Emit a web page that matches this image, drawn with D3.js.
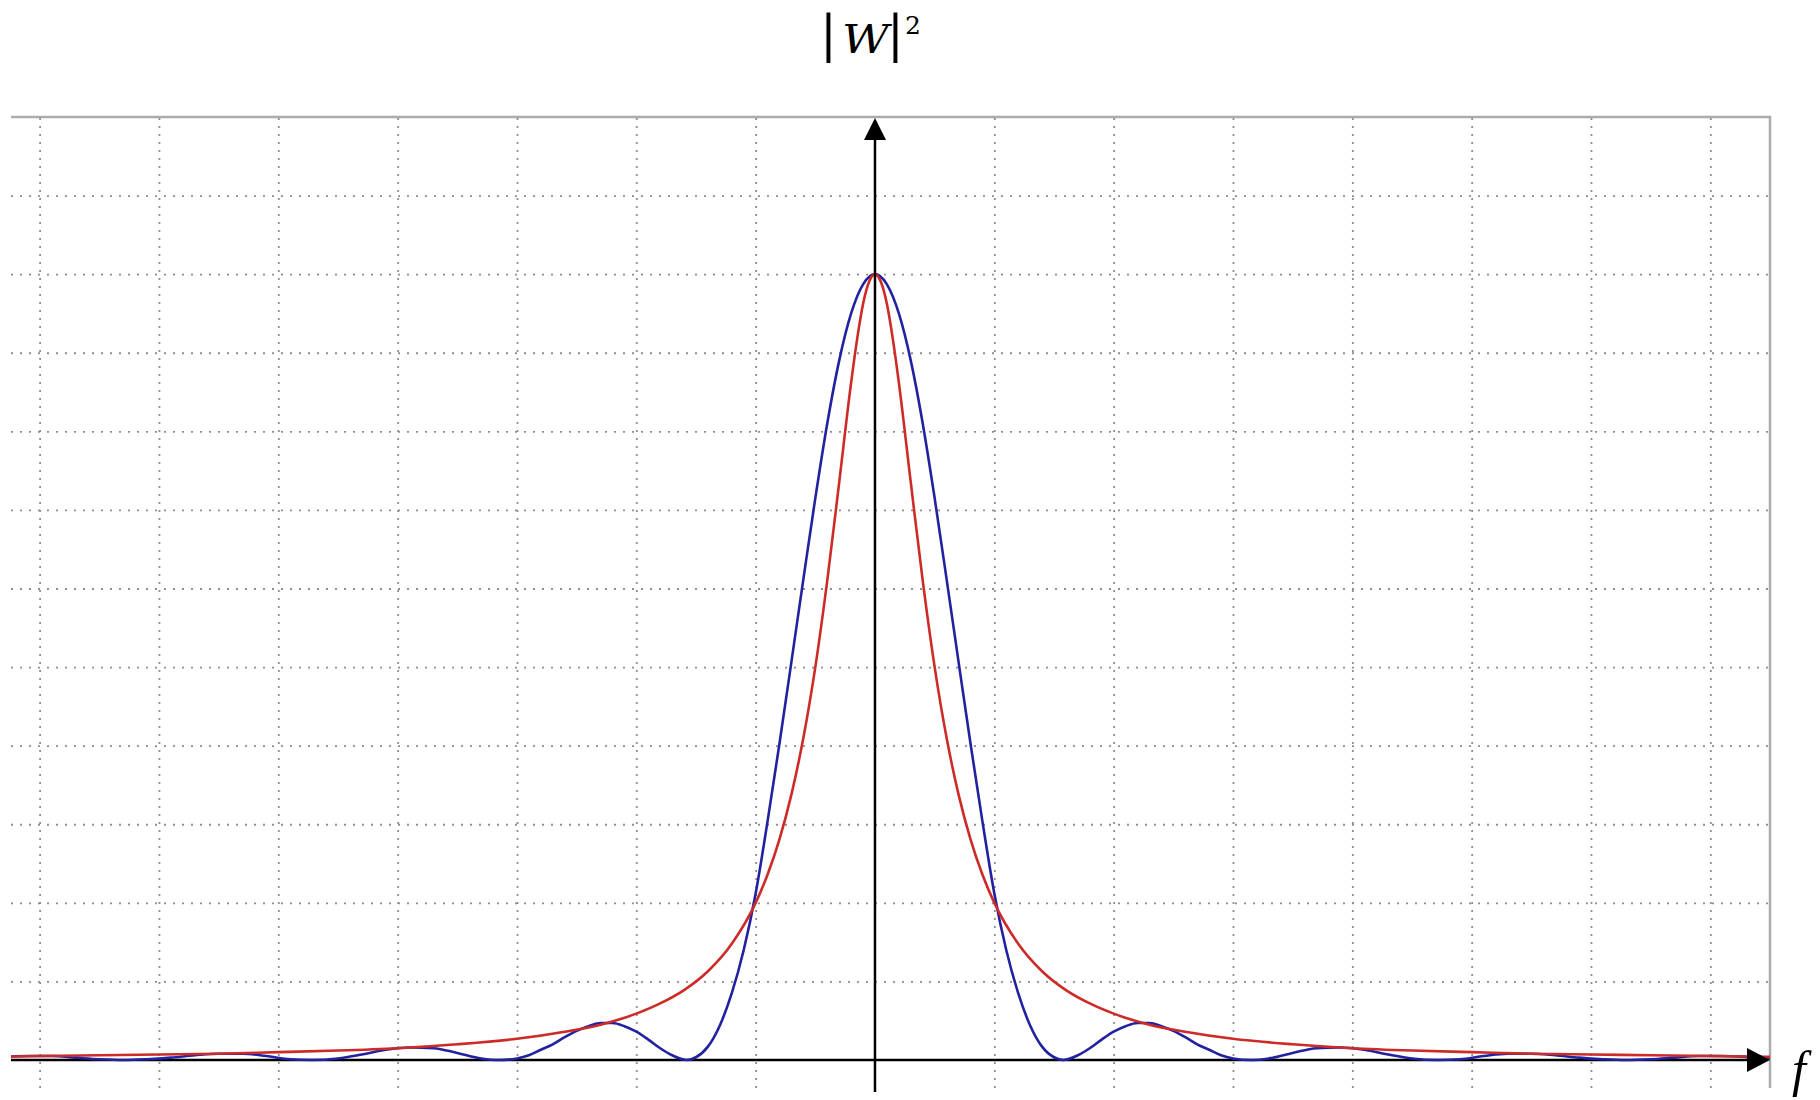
<!DOCTYPE html>
<html>
<head>
<meta charset="utf-8">
<script src="https://cdn.jsdelivr.net/npm/d3@7"></script>
<style>
  body { margin: 0; background: #fff; }
  svg { display: block; }
</style>
</head>
<body>
<script>

// spectrum is even in f, so only f >= 0 is listed (grid units)
const blueF = [0, 0.1, 0.2, 0.3, 0.4, 0.5, 0.6, 0.7, 0.8, 0.9, 1.0,
    1.1, 1.2, 1.3, 1.4, 1.5, 1.58, 1.7, 1.8, 1.9, 2.0, 2.1, 2.2, 2.3, 2.4, 2.5, 2.6,
    2.7, 2.8, 2.9, 3.0, 3.15, 3.3, 3.5, 3.7, 3.9, 4.1, 4.3, 4.5, 4.72, 4.9, 5.1, 5.3,
    5.5, 5.7, 5.9, 6.1, 6.29, 6.5, 6.7, 6.9, 7.1, 7.3, 7.5]
const blueW = [10, 9.87, 9.5, 8.9, 8.1, 7.15, 6.12, 5.07, 4.03, 3.04, 2.12,
    1.4, 0.85, 0.44, 0.17, 0.035, 0, 0.06, 0.15, 0.26, 0.36, 0.43, 0.47, 0.47, 0.43, 0.37, 0.29,
    0.2, 0.13, 0.06, 0.02, 0, 0.02, 0.09, 0.15, 0.16, 0.13, 0.07, 0.02, 0, 0.01, 0.05, 0.08,
    0.08, 0.06, 0.03, 0.01, 0, 0.01, 0.03, 0.05, 0.05, 0.04, 0.02]

const redF = [0, 0.05, 0.1, 0.15, 0.2, 0.3, 0.4, 0.5, 0.6, 0.7, 0.8, 0.9, 1.0, 1.2, 1.4,
    1.6, 1.8, 2.0, 2.3, 2.6, 3.0, 3.5, 4.0, 4.5, 5.0, 5.5, 6.0, 6.5, 7.0, 7.5]
const redW = [10, 9.9, 9.62, 9.17, 8.62, 7.35, 6.1, 5.0, 4.1, 3.38, 2.81, 2.36, 2.0, 1.48, 1.13,
    0.89, 0.72, 0.59, 0.45, 0.36, 0.27, 0.2, 0.15, 0.12, 0.1, 0.08, 0.07, 0.06, 0.05, 0.04]

const gridF = [-7, -6, -5, -4, -3, -2, -1, 1, 2, 3, 4, 5, 6, 7]
const gridW = [1, 2, 3, 4, 5, 6, 7, 8, 9, 10, 11]

const width = 1820, height = 1100
const frame = {left: 11, right: 1770, top: 117, bottom: 1088}

const svg = d3.select("body").append("svg")
    .attr("width", width)
    .attr("height", height)

const x = d3.scaleLinear().domain([-7.24, 7.5]).range([frame.left, frame.right])
const y = d3.scaleLinear().domain([0, 12]).range([1060, frame.top])

// mirror the f >= 0 half onto f < 0
function mirror(fs, ws) {
    let pts = fs.map((f, i) => [f, ws[i]])
    let left = pts.filter(d => d[0] > 0).map(d => [-d[0], d[1]]).reverse()
    return left.concat(pts)
}

// dotted grid
const gridColor = "#8e8e8e"
svg.append("g")
    .attr("transform", `translate(0,${frame.bottom})`)
    .call(d3.axisBottom(x).tickValues(gridF).tickSize(-(frame.bottom - frame.top)).tickFormat(""))
    .call(g => g.select(".domain").remove())
    .selectAll("line")
    .attr("stroke", gridColor)
    .attr("stroke-width", 1.8)
    .attr("stroke-dasharray", "2,6")

svg.append("g")
    .attr("transform", `translate(${frame.left},0)`)
    .call(d3.axisLeft(y).tickValues(gridW).tickSize(-(frame.right - frame.left)).tickFormat(""))
    .call(g => g.select(".domain").remove())
    .selectAll("line")
    .attr("stroke", gridColor)
    .attr("stroke-width", 1.8)
    .attr("stroke-dasharray", "2,7")

// frame: top and right edges only
svg.append("path")
    .attr("d", `M${frame.left},${frame.top}H${frame.right}V${frame.bottom}`)
    .attr("fill", "none")
    .attr("stroke", "#ababab")
    .attr("stroke-width", 2.5)

// horizontal axis
const x0 = x(0), y0 = y(0)
svg.append("line")
    .attr("x1", frame.left).attr("x2", frame.right - 20)
    .attr("y1", y0).attr("y2", y0)
    .attr("stroke", "#000").attr("stroke-width", 2.5)

svg.append("clipPath").attr("id", "plot-clip")
    .append("rect")
    .attr("x", frame.left).attr("y", frame.top)
    .attr("width", frame.right - frame.left).attr("height", frame.bottom - frame.top)

const line = d3.line()
    .x(d => x(d[0]))
    .y(d => y(d[1]))
    .curve(d3.curveMonotoneX)

const curves = svg.append("g").attr("clip-path", "url(#plot-clip)")

curves.append("path")
    .datum(mirror(blueF, blueW))
    .attr("d", line)
    .attr("fill", "none")
    .attr("stroke", "#2222a0")
    .attr("stroke-width", 2.6)

curves.append("path")
    .datum(mirror(redF, redW))
    .attr("d", line)
    .attr("fill", "none")
    .attr("stroke", "#cc2b28")
    .attr("stroke-width", 2.6)

// vertical axis
svg.append("line")
    .attr("x1", x0).attr("x2", x0)
    .attr("y1", frame.bottom + 4).attr("y2", frame.top + 20)
    .attr("stroke", "#000").attr("stroke-width", 2.5)

// arrow heads
svg.append("path")
    .attr("d", `M${x0},${frame.top + 1}L${x0 - 11},${frame.top + 23}L${x0 + 11},${frame.top + 23}Z`)
    .attr("fill", "#000")
svg.append("path")
    .attr("d", `M${frame.right},${y0}L${frame.right - 23},${y0 - 12}L${frame.right - 23},${y0 + 12}Z`)
    .attr("fill", "#000")

// title |W|^2 as one text, pieces placed around the vertical axis
const title = svg.append("text")
    .style("font-family", "'DejaVu Serif', serif")
    .style("fill", "#000")
title.append("tspan").attr("x", x0 - 55).attr("y", 51).style("font-size", "50px").text("|")
title.append("tspan").attr("x", x0 - 33).attr("y", 53)
    .attr("textLength", 47).attr("lengthAdjust", "spacingAndGlyphs")
    .style("font-size", "39px").style("font-style", "italic").text("W")
title.append("tspan").attr("x", x0 + 12).attr("y", 51).style("font-size", "50px").text("|")
title.append("tspan").attr("x", x0 + 30).attr("y", 34).style("font-size", "25px").text("2")

svg.append("text")
    .attr("x", frame.right + 22)
    .attr("y", 1086)
    .style("font-family", "'Liberation Serif', serif")
    .style("font-style", "italic")
    .style("font-size", "50px")
    .text("f")

</script>
</body>
</html>
